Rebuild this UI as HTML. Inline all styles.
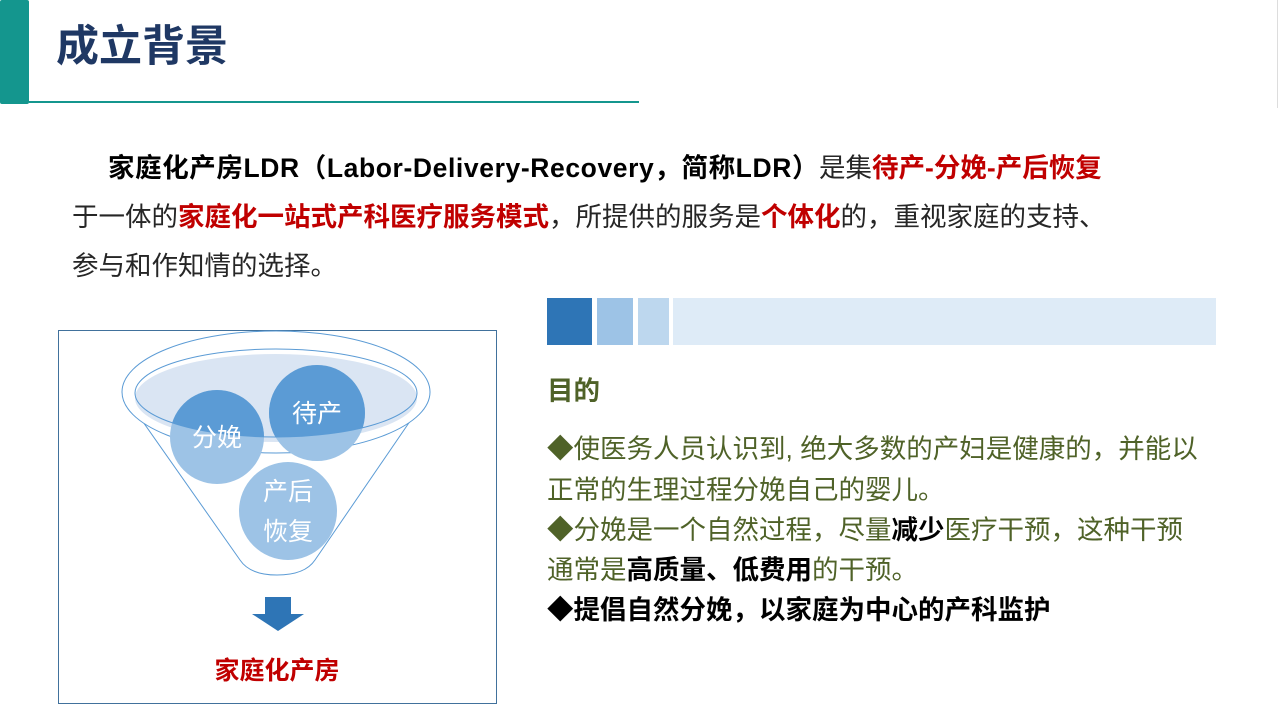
<!DOCTYPE html>
<html><head><meta charset="utf-8">
<style>
body{margin:0;width:1280px;height:720px;position:relative;background:#fff;overflow:hidden;font-family:"Liberation Sans","Noto Sans CJK SC",sans-serif;}
.a{position:absolute;white-space:nowrap;}
.p{font-size:26.5px;color:#262626;line-height:30px;}
.r{color:#c00000;font-weight:bold;}
.b{font-weight:bold;color:#000;}
.g{font-size:26.5px;color:#4f6228;line-height:30px;}
</style></head><body>
<div class="a" style="left:0;top:0;width:29px;height:104px;background:#14968e;border-radius:2px;"></div>
<div class="a" style="left:29px;top:101px;width:610px;height:2px;background:#14968e;"></div>
<div class="a" style="left:1277px;top:0;width:1px;height:108px;background:#ddd;"></div>
<div class="a" style="left:56px;top:21px;font-size:43px;font-weight:bold;color:#1f3864;line-height:52px;">成立背景</div>

<div class="a p" style="left:108px;top:153px;"><span class="b" style="letter-spacing:0.6px">家庭化产房LDR（Labor-Delivery-Recovery，简称LDR）</span>是集<span class="r">待产-分娩-产后恢复</span></div>
<div class="a p" style="left:72px;top:202px;">于一体的<span class="r">家庭化一站式产科医疗服务模式</span>，所提供的服务是<span class="r">个体化</span>的，重视家庭的支持、</div>
<div class="a p" style="left:72px;top:251px;">参与和作知情的选择。</div>

<div class="a" style="left:58px;top:330px;width:437px;height:372px;border:1px solid #41719c;"></div>
<svg class="a" style="left:0;top:0" width="1280" height="720">
<path d="M122 392 L240 560 Q250 575 277 575 Q305 575 315 560 L430 392" fill="#fff" stroke="#5b9bd5" stroke-width="1"/>
<ellipse cx="276" cy="392" rx="154" ry="61" fill="#fff" stroke="#5b9bd5" stroke-width="1"/>
<ellipse cx="276" cy="398" rx="141" ry="44" fill="#dae5f3" stroke="none"/>
<circle cx="217" cy="437" r="47" fill="#9dc3e6"/>
<circle cx="317" cy="413" r="48" fill="#9dc3e6"/>
<clipPath id="c"><ellipse cx="276" cy="393" rx="141" ry="44"/></clipPath>
<g clip-path="url(#c)">
<circle cx="217" cy="437" r="47" fill="#5b9bd5"/>
<circle cx="317" cy="413" r="48" fill="#5b9bd5"/>
</g>
<ellipse cx="276" cy="393" rx="141" ry="44" fill="none" stroke="#5b9bd5" stroke-width="1"/>
<circle cx="288" cy="511" r="49" fill="#9dc3e6"/>
<text x="217" y="446" font-size="25" fill="#fff" text-anchor="middle" font-family="Noto Sans CJK SC,sans-serif">分娩</text>
<text x="317" y="422" font-size="25" fill="#fff" text-anchor="middle" font-family="Noto Sans CJK SC,sans-serif">待产</text>
<text x="288" y="500" font-size="25" fill="#fff" text-anchor="middle" font-family="Noto Sans CJK SC,sans-serif">产后</text>
<text x="288" y="540" font-size="25" fill="#fff" text-anchor="middle" font-family="Noto Sans CJK SC,sans-serif">恢复</text>
<path d="M265 597 H291 V614 H304 L278 631 L252 614 H265 Z" fill="#2e75b6"/>
<text x="277" y="679" font-size="25" font-weight="bold" fill="#c00000" text-anchor="middle" font-family="Noto Sans CJK SC,sans-serif">家庭化产房</text>
<rect x="547" y="298" width="45" height="47" fill="#2e75b6"/>
<rect x="597" y="298" width="36" height="47" fill="#9dc3e6"/>
<rect x="638" y="298" width="31" height="47" fill="#bdd7ee"/>
<rect x="673" y="298" width="543" height="47" fill="#deebf7"/>
</svg>

<div class="a g" style="left:547px;top:376px;font-weight:bold;">目的</div>
<div class="a g" style="left:547px;top:434px;">◆使医务人员认识到, 绝大多数的产妇是健康的，并能以</div>
<div class="a g" style="left:547px;top:475px;">正常的生理过程分娩自己的婴儿。</div>
<div class="a g" style="left:547px;top:515px;">◆分娩是一个自然过程，尽量<span class="b">减少</span>医疗干预，这种干预</div>
<div class="a g" style="left:547px;top:555px;">通常是<span class="b">高质量、低费用</span>的干预。</div>
<div class="a g" style="left:547px;top:595px;color:#000;font-weight:bold;">◆提倡自然分娩，以家庭为中心的产科监护</div>
</body></html>
